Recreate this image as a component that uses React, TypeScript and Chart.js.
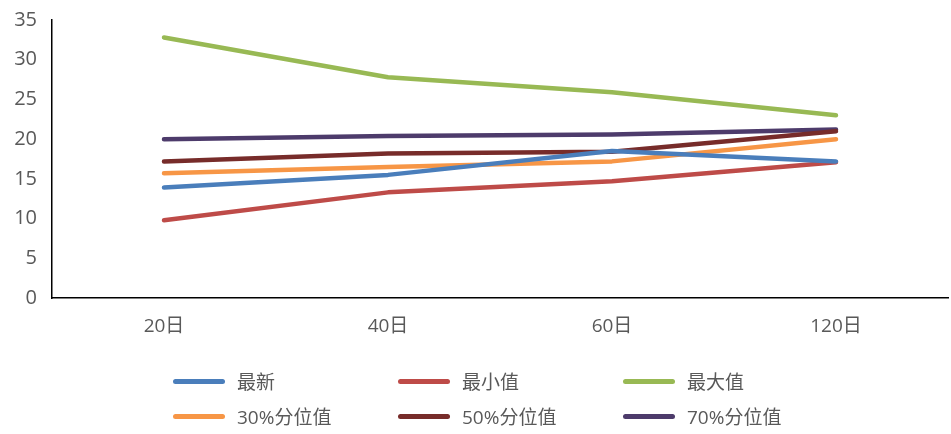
import React, { useEffect, useRef } from "react";
import { Chart, registerables } from "chart.js";

Chart.register(...registerables);

const categories = ["20日", "40日", "60日", "120日"];
const latest = [13.9, 15.5, 18.5, 17.2];
const minimum = [9.8, 13.3, 14.7, 17.1];
const maximum = [32.8, 27.8, 25.9, 23.0];
const pct30 = [15.7, 16.5, 17.2, 20.0];
const pct50 = [17.2, 18.2, 18.4, 21.0];
const pct70 = [20.0, 20.4, 20.6, 21.2];
const yTicks = [0, 5, 10, 15, 20, 25, 30, 35];

const series = [
  { label: "最新", data: latest, color: "#4a7ebb" },
  { label: "最小值", data: minimum, color: "#be4b48" },
  { label: "最大值", data: maximum, color: "#98b954" },
  { label: "30%分位值", data: pct30, color: "#f79646" },
  { label: "50%分位值", data: pct50, color: "#772c2a" },
  { label: "70%分位值", data: pct70, color: "#4d3b6b" },
];

const FONT = '"Open Sans", "Noto Sans CJK SC", sans-serif';

export default function App() {
  const canvasRef = useRef<HTMLCanvasElement | null>(null);

  useEffect(() => {
    if (!canvasRef.current) return;
    const chart = new Chart(canvasRef.current, {
      type: "line",
      data: {
        labels: categories,
        datasets: series.map((s) => ({
          label: s.label,
          data: s.data,
          borderColor: s.color,
          backgroundColor: s.color,
          borderWidth: 4.5,
          borderCapStyle: "round" as const,
          borderJoinStyle: "round" as const,
          pointRadius: 0,
          tension: 0,
        })),
      },
      options: {
        animation: false,
        responsive: false,
        layout: { padding: { top: 20, right: 3, left: 0, bottom: 0 } },
        plugins: { legend: { display: false }, tooltip: { enabled: false } },
        scales: {
          x: {
            offset: true,
            grid: { display: false, drawTicks: false },
            border: { display: true, color: "#000000", width: 1.5 },
            ticks: { color: "#595959", font: { family: FONT, size: 19 }, padding: 17 },
            afterFit: (scale: any) => {
              scale.height = 136;
            },
          },
          y: {
            min: 0,
            max: 35,
            afterBuildTicks: (scale: any) => {
              scale.ticks = yTicks.map((v) => ({ value: v }));
            },
            grid: { display: false, drawTicks: false },
            border: { display: true, color: "#000000", width: 1.5 },
            ticks: { color: "#595959", font: { family: FONT, size: 20 }, padding: 15 },
            afterFit: (scale: any) => {
              scale.width = 52;
              scale.paddingTop = 0;
              scale.paddingBottom = 0;
            },
          },
        },
      },
    });
    return () => chart.destroy();
  }, []);

  return (
    <div
      style={{
        position: "fixed",
        left: 0,
        top: 0,
        width: 951,
        height: 434,
        background: "#ffffff",
        fontFamily: FONT,
      }}
    >
      <canvas ref={canvasRef} width={951} height={434} style={{ display: "block" }} />
      {series.map((s, i) => {
        const col = i % 3;
        const row = Math.floor(i / 3);
        return (
          <div
            key={s.label}
            style={{
              position: "absolute",
              left: 173 + col * 225,
              top: 367 + row * 35,
              height: 28,
              display: "flex",
              alignItems: "center",
              whiteSpace: "nowrap",
            }}
          >
            <span
              style={{
                display: "inline-block",
                width: 52,
                height: 5,
                borderRadius: 3,
                background: s.color,
                marginRight: 12,
              }}
            />
            <span style={{ color: "#595959", fontSize: 19 }}>{s.label}</span>
          </div>
        );
      })}
    </div>
  );
}
